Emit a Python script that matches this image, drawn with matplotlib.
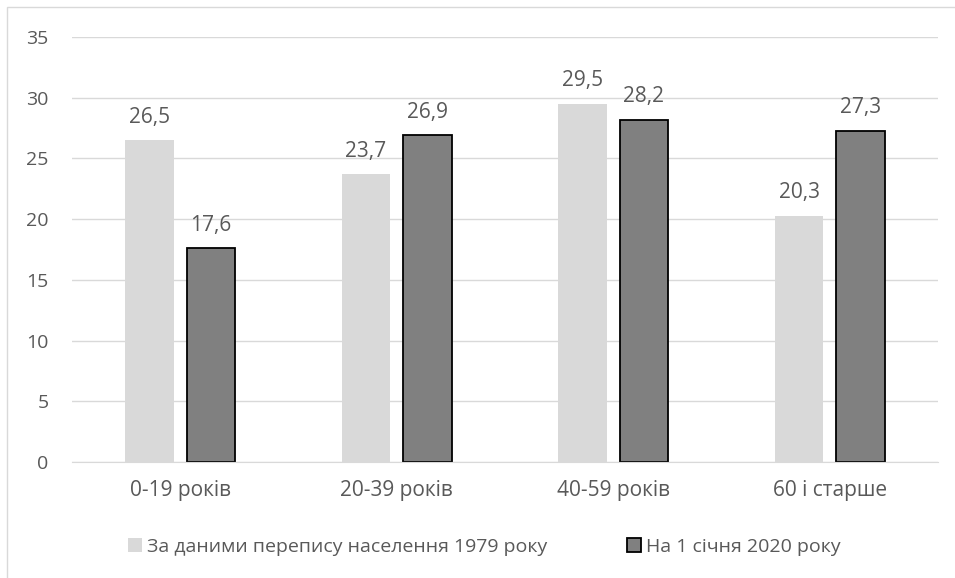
import numpy as np
import matplotlib
matplotlib.use("Agg")
import matplotlib.pyplot as plt
from matplotlib.patches import Rectangle

# дані
categories = ["0-19 років", "20-39 років", "40-59 років", "60 і старше"]
values_1979 = [26.5, 23.7, 29.5, 20.3]
values_2020 = [17.6, 26.9, 28.2, 27.3]
series_names = ["За даними перепису населення 1979 року", "На 1 січня 2020 року"]

plt.rcParams['font.family'] = ['Open Sans', 'DejaVu Sans']
text_color = "#595959"

fig = plt.figure(figsize=(9.55, 5.78), dpi=100)
ax = fig.add_axes([72 / 955, 1 - 462 / 578, (938 - 72) / 955, (462 - 37) / 578])

# рамка діаграми
fig.patches.append(Rectangle((7 / 955, -0.1), 1.1, 1 - 7 / 578 + 0.1, transform=fig.transFigure,
                             fill=False, edgecolor="#d9d9d9", linewidth=1, zorder=0))

x = np.arange(len(categories))
w = 0.222
off = 0.142
b1 = ax.bar(x - off, values_1979, w, color="#d9d9d9", label=series_names[0], zorder=2)
b2 = ax.bar(x + off, values_2020, w, color="#808080", edgecolor="black", linewidth=1.3,
            label=series_names[1], zorder=2)

for bars, vals in [(b1, values_1979), (b2, values_2020)]:
    for rect, v in zip(bars, vals):
        ax.annotate(f"{v:.1f}".replace(".", ","), (rect.get_x() + rect.get_width() / 2, v),
                    xytext=(0, 9), textcoords="offset points", ha="center", va="bottom",
                    fontsize=15, color=text_color)

ax.set_xlim(-0.5, 3.5)
ax.set_ylim(0, 35)
ax.set_yticks(range(0, 36, 5))
ax.set_xticks(x)
ax.set_xticklabels(categories, fontsize=15)
ax.tick_params(axis="both", length=0, colors=text_color)
ax.tick_params(axis="y", pad=17, labelsize=14)
ax.tick_params(axis="x", pad=13)
ax.grid(axis="y", color="#d9d9d9", linewidth=1, zorder=0)
for s in ["top", "right", "left"]:
    ax.spines[s].set_visible(False)
ax.spines["bottom"].set_color("#d9d9d9")

leg = fig.legend(loc="center", bbox_to_anchor=(0.507, 1 - 547 / 578), ncol=2, frameon=False,
                 fontsize=14, handlelength=0.72, handleheight=0.72, handletextpad=0.25,
                 columnspacing=4.1)
for t in leg.get_texts():
    t.set_color(text_color)

fig.savefig("out.png", dpi=100)
